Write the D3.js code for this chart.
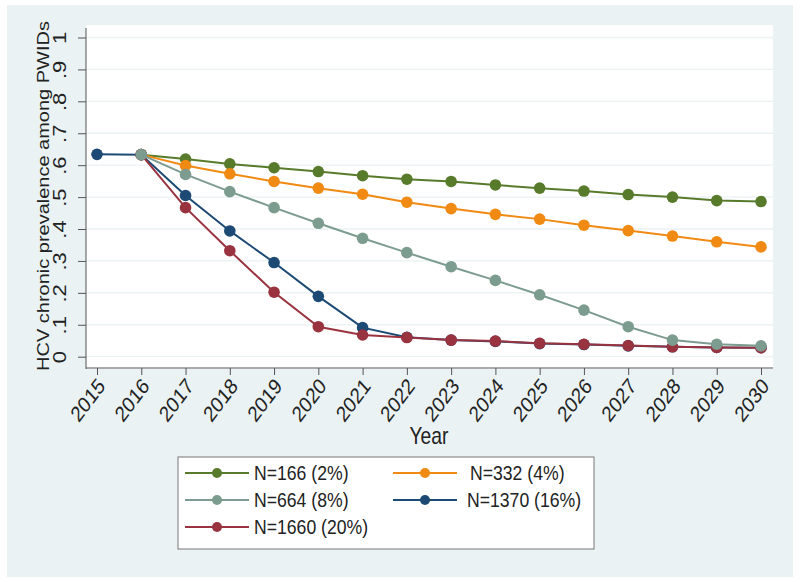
<!DOCTYPE html>
<html>
<head>
<meta charset="utf-8">
<script src="https://cdn.jsdelivr.net/npm/d3@7"></script>
<style>
  body { margin: 0; background: #fff; }
  svg { display: block; font-family: "Liberation Sans", Arial, sans-serif; }
</style>
</head>
<body>
<svg width="800" height="582"></svg>
<script>
// --- data ---
const years = [2015, 2016, 2017, 2018, 2019, 2020, 2021, 2022, 2023, 2024, 2025, 2026, 2027, 2028, 2029, 2030];
const yTicks = [0, .1, .2, .3, .4, .5, .6, .7, .8, .9, 1];
const yTickLabels = ["0", ".1", ".2", ".3", ".4", ".5", ".6", ".7", ".8", ".9", "1"];

const n166  = [null, 0.633, 0.619, 0.604, 0.592, 0.580, 0.567, 0.556, 0.549, 0.538, 0.528, 0.519, 0.508, 0.500, 0.489, 0.486];
const n332  = [null, 0.633, 0.599, 0.573, 0.549, 0.528, 0.509, 0.484, 0.464, 0.446, 0.431, 0.412, 0.395, 0.378, 0.360, 0.344];
const n664  = [null, 0.633, 0.571, 0.517, 0.467, 0.418, 0.371, 0.326, 0.282, 0.239, 0.194, 0.146, 0.094, 0.052, 0.039, 0.034];
const n1370 = [0.634, 0.633, 0.505, 0.394, 0.295, 0.189, 0.091, 0.061, 0.052, 0.048, 0.041, 0.038, 0.034, 0.031, 0.029, 0.028];
const n1660 = [null, 0.633, 0.467, 0.332, 0.202, 0.094, 0.068, 0.060, 0.052, 0.049, 0.042, 0.039, 0.035, 0.031, 0.029, 0.028];

const seriesNames = ["N=166 (2%)", "N=332 (4%)", "N=664 (8%)", "N=1370 (16%)", "N=1660 (20%)"];
const seriesColors = ["#587b2b", "#f08a12", "#7d9c90", "#1c4a74", "#9a3340"];

const series = [n166, n332, n664, n1370, n1660].map((vals, i) => ({
    name: seriesNames[i],
    color: seriesColors[i],
    values: years.map((yr, j) => ({ year: yr, v: vals[j] })).filter(d => d.v !== null)
}));
// draw order: blue before red, gray last so it sits on top at the tail
const drawOrder = [0, 1, 3, 4, 2];

// the source picture is squeezed sideways, so text gets a horizontal squeeze too
const squeeze = 0.84;

const svg = d3.select("svg");

// outer background
svg.append("rect").attr("x", 7).attr("y", 5).attr("width", 786).attr("height", 572).attr("fill", "#eaf2f3");

// plot region
const plot = { left: 86, right: 773, top: 25, bottom: 369 };
svg.append("rect")
    .attr("x", plot.left).attr("y", plot.top)
    .attr("width", plot.right - plot.left).attr("height", plot.bottom - plot.top)
    .attr("fill", "#fff");

const x = d3.scalePoint().domain(years).range([97, 761]);
const y = d3.scaleLinear().domain([0, 1]).range([356.7, 37.5]);

// gridlines
svg.append("g").selectAll("line").data(yTicks).enter().append("line")
    .attr("x1", plot.left).attr("x2", plot.right)
    .attr("y1", d => y(d)).attr("y2", d => y(d))
    .attr("stroke", "#eaf2f3").attr("stroke-width", 1.3);

// y axis
const yAxis = svg.append("g")
    .attr("transform", `translate(${plot.left},0)`)
    .call(d3.axisLeft(y).tickValues(yTicks).tickFormat((d, i) => yTickLabels[i]).tickSize(8).tickSizeOuter(0));
yAxis.select(".domain").attr("d", `M0,${plot.top + 3}V${plot.bottom}`).attr("stroke", "#555");
yAxis.selectAll(".tick line").attr("stroke", "#555");
yAxis.selectAll(".tick text")
    .attr("x", 0).attr("dy", 0)
    .attr("transform", `translate(-20,0) scale(${squeeze},1) rotate(-90)`)
    .attr("text-anchor", "middle")
    .attr("fill", "#222")
    .style("font-size", "22px");

// x axis
const xAxis = svg.append("g")
    .attr("transform", `translate(0,${plot.bottom - 1})`)
    .call(d3.axisBottom(x).tickSize(7).tickSizeOuter(0));
xAxis.select(".domain").attr("d", `M${plot.left},0H${plot.right}`).attr("stroke", "#555");
xAxis.selectAll(".tick line").attr("stroke", "#555");
xAxis.selectAll(".tick text")
    .attr("y", 0).attr("dy", 0)
    .attr("transform", `translate(5,15) scale(${squeeze},1) rotate(-48)`)
    .attr("text-anchor", "end")
    .attr("dominant-baseline", "middle")
    .attr("fill", "#222")
    .style("font-size", "22px");

// axis titles
svg.append("text")
    .attr("transform", `translate(49,196) scale(${squeeze},1) rotate(-90)`)
    .attr("text-anchor", "middle")
    .attr("fill", "#222")
    .style("font-size", "20px")
    .text("HCV chronic prevalence among PWIDs");

svg.append("text")
    .attr("transform", `translate(429,444) scale(${squeeze},1)`)
    .attr("text-anchor", "middle")
    .attr("fill", "#222")
    .style("font-size", "23px")
    .text("Year");

// lines + markers
const line = d3.line().x(d => x(d.year)).y(d => y(d.v));
const lines = svg.append("g");
drawOrder.forEach(i => {
    const s = series[i];
    const g = lines.append("g");
    g.append("path").datum(s.values)
        .attr("d", line)
        .attr("fill", "none")
        .attr("stroke", s.color)
        .attr("stroke-width", 2);
    g.selectAll("circle").data(s.values).enter().append("circle")
        .attr("cx", d => x(d.year)).attr("cy", d => y(d.v))
        .attr("r", 5.8)
        .attr("fill", s.color);
});

// legend
const legend = svg.append("g");
legend.append("rect")
    .attr("x", 178).attr("y", 457).attr("width", 416).attr("height", 92)
    .attr("fill", "#fff").attr("stroke", "#777").attr("stroke-width", 1);

const legendPos = [
    { lx: 185, tx: 254, ty: 473 },
    { lx: 393, tx: 470, ty: 473 },
    { lx: 185, tx: 254, ty: 500 },
    { lx: 393, tx: 467, ty: 500 },
    { lx: 185, tx: 254, ty: 527 }
];
series.forEach((s, i) => {
    const p = legendPos[i];
    legend.append("line")
        .attr("x1", p.lx).attr("x2", p.lx + 64)
        .attr("y1", p.ty).attr("y2", p.ty)
        .attr("stroke", s.color).attr("stroke-width", 2);
    legend.append("circle")
        .attr("cx", p.lx + 32).attr("cy", p.ty).attr("r", 5)
        .attr("fill", s.color);
    legend.append("text")
        .attr("transform", `translate(${p.tx},${p.ty + 1}) scale(${squeeze},1)`)
        .attr("dominant-baseline", "middle")
        .attr("fill", "#222")
        .style("font-size", "21px")
        .text(s.name);
});
</script>
</body>
</html>
